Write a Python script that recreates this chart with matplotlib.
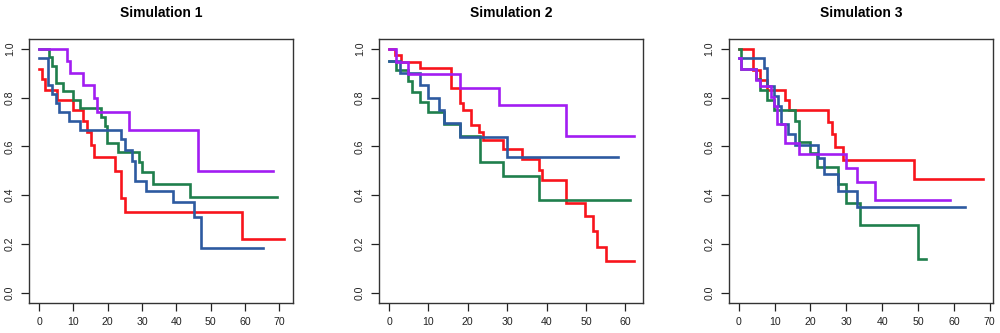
import matplotlib
matplotlib.use("Agg")
import matplotlib.pyplot as plt

plt.rcParams["font.family"] = ["Liberation Sans", "DejaVu Sans"]

RED = "#F8141C"
GREEN = "#1F7F4C"
BLUE = "#2D5AA0"
PURPLE = "#A21DF2"

# Simulation 1 (time, survival); last entry repeats the final value at the last follow-up
SIM1_RED_T = [0, 0.8, 1.75, 5.1, 9.9, 12.8, 14.0, 15.0, 15.9, 22.0, 23.9, 24.9, 59.1, 71.2]
SIM1_RED_S = [0.916, 0.875, 0.830, 0.792, 0.751, 0.705, 0.659, 0.605, 0.555, 0.501, 0.390, 0.333, 0.222, 0.222]
SIM1_GREEN_T = [0, 2.9, 3.9, 4.9, 7.0, 9.9, 11.9, 17.9, 19.1, 19.8, 22.9, 29.0, 29.9, 33.1, 43.9, 69.2]
SIM1_GREEN_S = [1.0, 0.966, 0.929, 0.861, 0.826, 0.792, 0.758, 0.721, 0.684, 0.612, 0.577, 0.536, 0.495, 0.446, 0.392, 0.392]
SIM1_BLUE_T = [0, 2.7, 3.9, 4.9, 5.8, 8.7, 11.9, 23.9, 24.9, 27.0, 27.8, 31.1, 39.1, 45.1, 47.1, 65.3]
SIM1_BLUE_S = [0.961, 0.853, 0.816, 0.778, 0.740, 0.703, 0.667, 0.629, 0.585, 0.541, 0.459, 0.416, 0.371, 0.309, 0.184, 0.184]
SIM1_PURPLE_T = [0, 8.0, 8.9, 12.8, 15.9, 16.9, 26.1, 46.2, 68.2]
SIM1_PURPLE_S = [1.0, 0.950, 0.900, 0.850, 0.799, 0.740, 0.667, 0.499, 0.499]

# Simulation 2
SIM2_RED_T = [0, 1.5, 3.0, 7.9, 15.8, 17.9, 18.9, 20.8, 22.8, 23.8, 28.9, 33.8, 38.1, 38.9,
              45.0, 49.9, 51.9, 52.8, 55.0, 62.1]
SIM2_RED_S = [1.0, 0.973, 0.946, 0.921, 0.839, 0.778, 0.748, 0.687, 0.657, 0.626, 0.588, 0.547, 0.503, 0.463,
              0.370, 0.317, 0.254, 0.190, 0.129, 0.129]
SIM2_GREEN_T = [0, 1.8, 4.8, 5.8, 7.9, 9.9, 14.0, 17.9, 23.0, 28.9, 38.1, 61.1]
SIM2_GREEN_S = [0.948, 0.912, 0.867, 0.823, 0.782, 0.739, 0.691, 0.642, 0.536, 0.479, 0.381, 0.381]
SIM2_BLUE_T = [0, 2.8, 7.9, 9.9, 12.8, 14.0, 17.9, 29.9, 58.1]
SIM2_BLUE_S = [0.948, 0.901, 0.850, 0.800, 0.748, 0.697, 0.639, 0.558, 0.558]
SIM2_PURPLE_T = [0, 1.8, 4.9, 17.9, 27.8, 45.0, 62.1]
SIM2_PURPLE_S = [1.0, 0.946, 0.895, 0.841, 0.771, 0.642, 0.642]

# Simulation 3
SIM3_RED_T = [0, 3.9, 6.0, 8.0, 13.0, 14.0, 25.0, 25.9, 26.8, 29.1, 49.0, 68.2]
SIM3_RED_S = [1.0, 0.914, 0.873, 0.833, 0.789, 0.748, 0.701, 0.650, 0.599, 0.544, 0.467, 0.467]
SIM3_GREEN_T = [0, 0.7, 4.8, 5.8, 8.0, 9.9, 15.8, 16.8, 19.9, 21.8, 27.7, 29.8, 33.9, 49.9, 52.1]
SIM3_GREEN_S = [1.0, 0.916, 0.875, 0.833, 0.789, 0.748, 0.705, 0.619, 0.574, 0.517, 0.446, 0.370, 0.279, 0.139, 0.139]
SIM3_BLUE_T = [0, 6.9, 8.0, 9.9, 11.0, 11.7, 13.8, 15.8, 22.0, 23.8, 27.7, 33.0, 63.1]
SIM3_BLUE_S = [0.961, 0.922, 0.846, 0.807, 0.767, 0.691, 0.649, 0.605, 0.551, 0.487, 0.419, 0.350, 0.350]
SIM3_PURPLE_T = [0, 0.7, 4.8, 5.8, 8.9, 9.9, 10.8, 12.8, 16.9, 30.0, 33.0, 38.0, 59.0]
SIM3_PURPLE_S = [0.961, 0.917, 0.873, 0.846, 0.803, 0.766, 0.691, 0.612, 0.569, 0.513, 0.456, 0.381, 0.381]

PANELS = [
    ("Simulation 1", [(SIM1_RED_T, SIM1_RED_S, RED), (SIM1_GREEN_T, SIM1_GREEN_S, GREEN),
                      (SIM1_BLUE_T, SIM1_BLUE_S, BLUE), (SIM1_PURPLE_T, SIM1_PURPLE_S, PURPLE)],
     list(range(0, 71, 10))),
    ("Simulation 2", [(SIM2_RED_T, SIM2_RED_S, RED), (SIM2_GREEN_T, SIM2_GREEN_S, GREEN),
                      (SIM2_BLUE_T, SIM2_BLUE_S, BLUE), (SIM2_PURPLE_T, SIM2_PURPLE_S, PURPLE)],
     list(range(0, 61, 10))),
    ("Simulation 3", [(SIM3_RED_T, SIM3_RED_S, RED), (SIM3_GREEN_T, SIM3_GREEN_S, GREEN),
                      (SIM3_BLUE_T, SIM3_BLUE_S, BLUE), (SIM3_PURPLE_T, SIM3_PURPLE_S, PURPLE)],
     list(range(0, 71, 10))),
]

Y_TICKS = [0.0, 0.2, 0.4, 0.6, 0.8, 1.0]

fig = plt.figure(figsize=(10, 3.33), dpi=100)
lefts = [0.0293, 0.3793, 0.729]

for left, (title, curves, xticks) in zip(lefts, PANELS):
    ax = fig.add_axes([left, 0.091, 0.264, 0.792])
    xmax = 0
    for t, s, color in curves:
        ax.step(t, s, where="post", color=color, lw=1.9, solid_joinstyle="miter")
        xmax = max(xmax, max(t))
    pad = 0.04 * xmax
    ax.set_xlim(-pad, xmax + pad)
    ax.set_ylim(-0.04, 1.04)
    ax.set_xticks(xticks)
    ax.set_xticklabels([str(v) for v in xticks])
    ax.set_yticks(Y_TICKS)
    ax.set_yticklabels([f"{v:.1f}" for v in Y_TICKS], rotation=90, va="center")
    ax.tick_params(direction="out", length=5.5, width=0.9, labelsize=7.6, pad=5, colors="#222222")
    for sp in ax.spines.values():
        sp.set_linewidth(1.0)
        sp.set_color("#333333")
    ax.set_title(title, fontsize=10, fontweight="bold", pad=16)

fig.savefig("out.png", dpi=100)
